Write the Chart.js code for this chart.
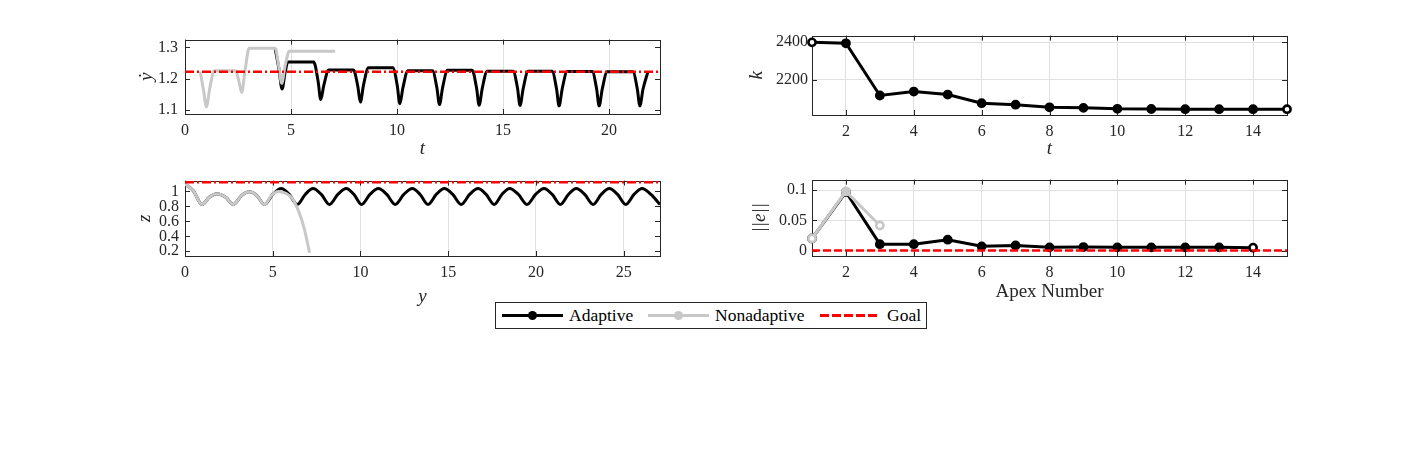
<!DOCTYPE html>
<html>
<head>
<meta charset="utf-8">
<script src="https://cdn.jsdelivr.net/npm/chart.js@4.4.1/dist/chart.umd.min.js"></script>
<style>
  body { margin: 0; background: #fff; width: 1422px; height: 469px; position: relative; overflow: hidden; font-family: "Liberation Serif", "DejaVu Serif", serif; }
  canvas { position: absolute; }
  #legend { position: absolute; left: 495px; top: 302px; width: 432px; height: 27px; border: 1px solid #262626; box-sizing: border-box; background: #fff; }
  #legend .ln { position: absolute; top: 11px; height: 3px; width: 61px; }
  #legend .dot { position: absolute; top: 8px; width: 9px; height: 9px; border-radius: 50%; }
  #legend .tx { position: absolute; top: 0; line-height: 25px; font-size: 17.5px; color: #000; }
</style>
</head>
<body>
<canvas id="ydotChart" width="575" height="146"></canvas>
<canvas id="zChart" width="575" height="146"></canvas>
<canvas id="kChart" width="575" height="148"></canvas>
<canvas id="errChart" width="575" height="146"></canvas>

<div id="legend">
  <div class="ln" style="left:6px;background:#000"></div>
  <div class="dot" style="left:32px;background:#000"></div>
  <div class="tx" style="left:73px">Adaptive</div>
  <div class="ln" style="left:152px;background:#c8c8c8"></div>
  <div class="dot" style="left:178px;background:#c8c8c8"></div>
  <div class="tx" style="left:219px">Nonadaptive</div>
  <div class="ln" style="left:324px;width:60px;background:repeating-linear-gradient(90deg,#ff0000 0 9px,transparent 9px 12px)"></div>
  <div class="tx" style="left:391px">Goal</div>
</div>

<script>
// ---- top left: ydot vs t ----
// adaptive run only shown where it leaves the nonadaptive one (it sits under it before)
const tAdaptive = [4.25, 4.42, 4.58, 4.72, 4.85,
  6.07, 6.28, 6.4, 6.55, 6.78, 7.94, 8.15, 8.27, 8.42, 8.65, 9.8, 10.01, 10.13, 10.28, 10.51,
  11.67, 11.88, 12.0, 12.15, 12.38, 13.54, 13.75, 13.87, 14.02, 14.25, 15.47, 15.68, 15.8, 15.95, 16.18,
  17.31, 17.52, 17.64, 17.79, 18.02, 19.2, 19.41, 19.53, 19.68, 19.91, 21.12, 21.33, 21.45, 21.6, 21.83];
const ydotAdaptive = [1.297, 1.235, 1.167, 1.22, 1.253,
  1.253, 1.19, 1.133, 1.18, 1.228, 1.228, 1.175, 1.125, 1.18, 1.235, 1.235, 1.178, 1.12, 1.172, 1.225,
  1.225, 1.17, 1.117, 1.172, 1.227, 1.227, 1.17, 1.115, 1.17, 1.224, 1.224, 1.17, 1.114, 1.169, 1.224,
  1.224, 1.168, 1.113, 1.168, 1.223, 1.223, 1.168, 1.113, 1.168, 1.222, 1.222, 1.167, 1.113, 1.167, 1.222];
const tNonadaptive = [0.72, 0.88, 1.01, 1.17, 1.38, 2.38, 2.55, 2.67, 2.84, 3.02, 4.25, 4.42, 4.56, 4.72, 4.92, 7.08];
const ydotNonadaptive = [1.222, 1.16, 1.11, 1.17, 1.225, 1.225, 1.19, 1.156, 1.23, 1.297, 1.297, 1.24, 1.185, 1.24, 1.288, 1.288];
const tGoal = [0, 22.4];
const ydotGoal = [1.222, 1.222];
const tTicks = [0, 5, 10, 15, 20];
const ydotTicks = [1.1, 1.2, 1.3];

// ---- bottom left: z vs y ----
const yAdaptive = [0, 0.47, 0.97, 1.4, 1.82, 2.3, 2.76, 3.22, 3.67, 4.1, 4.53,
  5.0, 5.48, 5.94, 6.4, 6.85, 7.3, 7.77, 8.23, 8.71, 9.19, 9.63, 10.06, 10.54, 11.02, 11.5, 11.98,
  12.47, 12.95, 13.4, 13.85, 14.32, 14.78, 15.26, 15.74, 16.22, 16.7, 17.16, 17.62, 18.06, 18.5, 19.0, 19.49,
  19.98, 20.46, 20.93, 21.39, 21.85, 22.3, 22.78, 23.26, 23.72, 24.18, 24.65, 25.12, 25.59, 26.05, 26.55, 27.07];
const zAdaptive = [1.10, 1.01, 0.826, 0.925, 0.97, 0.925, 0.826, 0.945, 0.995, 0.945, 0.826,
  0.96, 1.04, 0.96, 0.826, 0.96, 1.04, 0.96, 0.826, 0.96, 1.04, 0.96, 0.826, 0.96, 1.04, 0.96, 0.826,
  0.96, 1.04, 0.96, 0.826, 0.96, 1.04, 0.96, 0.826, 0.96, 1.04, 0.96, 0.826, 0.96, 1.04, 0.96, 0.826,
  0.96, 1.04, 0.96, 0.826, 0.96, 1.04, 0.96, 0.826, 0.96, 1.04, 0.96, 0.826, 0.96, 1.04, 0.96, 0.826];
const yNonadaptive = [0, 0.47, 0.97, 1.4, 1.82, 2.3, 2.76, 3.22, 3.67, 4.1, 4.53, 4.92, 5.3, 5.75, 6.1, 6.5, 6.8, 7.1];
const zNonadaptive = [1.10, 1.01, 0.826, 0.925, 0.97, 0.925, 0.826, 0.945, 0.995, 0.945, 0.826, 0.945, 1.0, 0.975, 0.91, 0.72, 0.5, 0.18];
const yGoal = [0, 27.07];
const zGoal = [1.123, 1.123];
const yTicks = [0, 5, 10, 15, 20, 25];
const zTicks = [0.2, 0.4, 0.6, 0.8, 1];

// ---- top right: k per apex ----
const apexK = [1, 2, 3, 4, 5, 6, 7, 8, 9, 10, 11, 12, 13, 14, 15];
const kAdaptive = [2399, 2394, 2116, 2137, 2121, 2075, 2067, 2053, 2050, 2045, 2044, 2043, 2043, 2043, 2043];
const apexTicks = [2, 4, 6, 8, 10, 12, 14];
const kTicks = [2200, 2400];

// ---- bottom right: error per apex ----
const apexErrAdaptive = [1, 2, 3, 4, 5, 6, 7, 8, 9, 10, 11, 12, 13, 14];
const errAdaptive = [0.02, 0.097, 0.0106, 0.0106, 0.018, 0.007, 0.0085, 0.0053, 0.0058, 0.0053, 0.0053, 0.0053, 0.0053, 0.0048];
const apexErrNonadaptive = [1, 2, 3];
const errNonadaptive = [0.02, 0.098, 0.0415];
const apexGoal = [1, 15];
const errGoal = [0, 0];
const errTicks = [0, 0.05, 0.1];

const BLACK = '#000000', GRAY = '#c8c8c8', RED = '#ff0000', AX = '#262626';
const FONT = "'Liberation Serif', 'DejaVu Serif', serif";

const pts = (xs, ys) => xs.map((x, i) => ({x: x, y: ys[i]}));

// box + inward ticks like matlab
const frame = {
  id: 'frame',
  beforeDatasetsDraw(chart) {
    const {ctx, chartArea: a, scales} = chart;
    const x = scales.x, y = scales.y;
    ctx.save();
    ctx.strokeStyle = AX;
    ctx.lineWidth = 1;
    ctx.strokeRect(Math.round(a.left) + 0.5, Math.round(a.top) + 0.5, Math.round(a.right - a.left), Math.round(a.bottom - a.top));
    ctx.beginPath();
    x.ticks.forEach(t => {
      const p = Math.round(x.getPixelForValue(t.value)) + 0.5;
      ctx.moveTo(p, a.bottom); ctx.lineTo(p, a.bottom - 5);
      ctx.moveTo(p, a.top); ctx.lineTo(p, a.top + 5);
    });
    y.ticks.forEach(t => {
      const p = Math.round(y.getPixelForValue(t.value)) + 0.5;
      ctx.moveTo(a.left, p); ctx.lineTo(a.left + 5, p);
      ctx.moveTo(a.right, p); ctx.lineTo(a.right - 5, p);
    });
    ctx.stroke();
    ctx.restore();
  }
};

function place(id, L, T, R, B) {
  const c = document.getElementById(id);
  c.style.left = (L - 80) + 'px';
  c.style.top = (T - 12) + 'px';
  c.width = Math.round(R - L) + 100;
  c.height = Math.round(B - T) + 67;
}

function makeChart(id, datasets, o) {
  return new Chart(document.getElementById(id), {
    type: 'line',
    data: {datasets: datasets},
    options: {
      responsive: false,
      animation: false,
      events: [],
      layout: {autoPadding: false, padding: {top: 12, right: 20, left: 0, bottom: 0}},
      plugins: {legend: {display: false}, tooltip: {enabled: false}},
      elements: {line: {cubicInterpolationMode: 'monotone'}},
      scales: {
        x: {
          type: 'linear', min: o.xmin, max: o.xmax,
          afterBuildTicks: s => { s.ticks = o.xticks.map(v => ({value: v})); },
          afterFit: s => { s.height = 55; },
          border: {display: false},
          grid: {display: true, drawTicks: false, color: '#e0e0e0', lineWidth: 1},
          ticks: {padding: 7, autoSkip: false, color: AX, font: {family: FONT, size: 16}, maxRotation: 0, callback: v => String(v)},
          title: {display: true, text: o.xtitle, color: AX, padding: {top: 0, bottom: o.xpad},
                  font: {family: FONT, size: o.xsize || 19, style: o.xitalic === false ? 'normal' : 'italic'}}
        },
        y: {
          type: 'linear', min: o.ymin, max: o.ymax,
          afterBuildTicks: s => { s.ticks = o.yticks.map(v => ({value: v})); },
          afterFit: s => { s.width = 80; },
          border: {display: false},
          grid: {display: o.ygrid, drawTicks: false, color: '#e0e0e0', lineWidth: 1},
          ticks: {padding: o.ytickpad, autoSkip: false, color: AX, font: {family: FONT, size: 16}, callback: v => String(v)},
          title: {display: true, text: o.ytitle, color: AX, padding: {top: o.ypad, bottom: 0},
                  font: {family: FONT, size: 19, style: 'italic'}}
        }
      }
    },
    plugins: [frame]
  });
}

const lineDs = (data, color, order, extra) => Object.assign({
  data: data, borderColor: color, backgroundColor: color, borderWidth: 3,
  pointRadius: 0, fill: false, order: order
}, extra || {});

const markerDs = (data, color, order) => ({
  data: data, borderColor: color, borderWidth: 3, fill: false, order: order, clip: false,
  cubicInterpolationMode: 'default', tension: 0,
  pointRadius: 3.6, pointBorderWidth: 2.6, pointBorderColor: color,
  pointBackgroundColor: ctx => (ctx.dataIndex === 0 || ctx.dataIndex === data.length - 1) ? '#ffffff' : color
});

// top left
place('ydotChart', 185, 35, 660, 114);
makeChart('ydotChart', [
  lineDs(pts(tGoal, ydotGoal), RED, 0, {borderWidth: 2.6, borderDash: [9, 3, 2, 3], cubicInterpolationMode: 'default'}),
  lineDs(pts(tNonadaptive, ydotNonadaptive), GRAY, 1),
  lineDs(pts(tAdaptive, ydotAdaptive), BLACK, 2)
], {xmin: 0, xmax: 22.4, ymin: 1.087, ymax: 1.325, xticks: tTicks, yticks: ydotTicks,
    xtitle: 't', ytitle: '\u1E8F', xpad: 9, ypad: 30.5, ygrid: false, ytickpad: 7});

// bottom left
place('zChart', 185, 177, 660, 256);
makeChart('zChart', [
  lineDs(pts(yGoal, zGoal), RED, 0, {borderWidth: 2.6, borderDash: [9, 3, 2, 3], cubicInterpolationMode: 'default'}),
  lineDs(pts(yNonadaptive, zNonadaptive), GRAY, 1),
  lineDs(pts(yAdaptive, zAdaptive), BLACK, 2)
], {xmin: 0, xmax: 27.07, ymin: 0.137, ymax: 1.145, xticks: yTicks, yticks: zTicks,
    xtitle: 'y', ytitle: 'z', xpad: 3, ypad: 28.8, ygrid: false, ytickpad: 6});

// top right
place('kChart', 811.5, 34, 1286.5, 115);
makeChart('kChart', [
  markerDs(pts(apexK, kAdaptive), BLACK, 0)
], {xmin: 1, xmax: 15, ymin: 2012, ymax: 2435, xticks: apexTicks, yticks: kTicks,
    xtitle: 't', ytitle: 'k', xpad: 10, ypad: 13.8, ygrid: true, ytickpad: 4});

// bottom right
place('errChart', 811.5, 177, 1286.5, 256);
makeChart('errChart', [
  lineDs(pts(apexGoal, errGoal), RED, 0, {borderWidth: 2.6, borderDash: [8, 3], cubicInterpolationMode: 'default', clip: false}),
  markerDs(pts(apexErrNonadaptive, errNonadaptive), GRAY, 1),
  markerDs(pts(apexErrAdaptive, errAdaptive), BLACK, 2)
], {xmin: 1, xmax: 15, ymin: -0.009, ymax: 0.1176, xticks: apexTicks, yticks: errTicks,
    xtitle: 'Apex Number', xitalic: false, ytitle: '||e||', xpad: 8, ypad: 17, ygrid: true, ytickpad: 5});
</script>
</body>
</html>
